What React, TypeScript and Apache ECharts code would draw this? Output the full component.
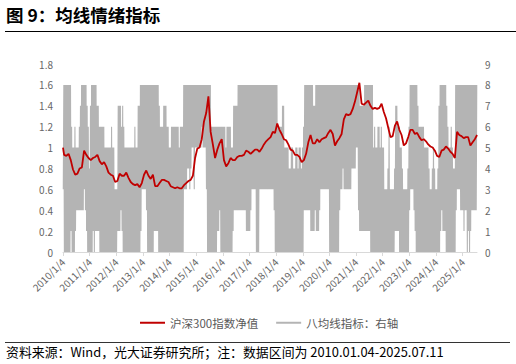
import React, { useEffect, useRef } from "react";
import * as echarts from "echarts";

// 沪深300指数净值, monthly (Jan..Dec), first point 2010/1/4 = 1
const redStart = 1.0;
const red2010 = [0.93, 0.92, 0.94, 0.88, 0.79, 0.74, 0.75, 0.8, 0.81, 0.97, 0.93, 0.9];
const red2011 = [0.88, 0.9, 0.91, 0.93, 0.87, 0.84, 0.86, 0.82, 0.76, 0.74, 0.73, 0.67];
const red2012 = [0.68, 0.75, 0.73, 0.73, 0.76, 0.71, 0.67, 0.65, 0.64, 0.65, 0.62, 0.66];
const red2013 = [0.74, 0.78, 0.73, 0.7, 0.74, 0.63, 0.63, 0.66, 0.69, 0.69, 0.68, 0.67];
const red2014 = [0.63, 0.62, 0.61, 0.62, 0.61, 0.61, 0.64, 0.66, 0.68, 0.69, 0.73, 0.9];
const red2015 = [0.99, 1.0, 1.08, 1.25, 1.33, 1.49, 1.15, 1.03, 0.9, 0.98, 1.04, 1.08];
const red2016 = [0.88, 0.82, 0.85, 0.9, 0.88, 0.88, 0.91, 0.92, 0.92, 0.93, 0.97, 0.96];
const red2017 = [0.94, 0.96, 0.98, 0.98, 0.96, 0.99, 1.03, 1.06, 1.08, 1.1, 1.15, 1.14];
const red2018 = [1.23, 1.17, 1.13, 1.08, 1.07, 1.03, 0.98, 0.97, 0.93, 0.93, 0.91, 0.86];
const red2019 = [0.88, 0.94, 1.05, 1.12, 1.04, 1.04, 1.08, 1.05, 1.08, 1.09, 1.1, 1.14];
const red2020 = [1.17, 1.13, 1.02, 1.06, 1.09, 1.13, 1.27, 1.32, 1.31, 1.32, 1.37, 1.44];
const red2021 = [1.53, 1.62, 1.42, 1.41, 1.43, 1.45, 1.4, 1.37, 1.38, 1.37, 1.38, 1.42];
const red2022 = [1.34, 1.28, 1.19, 1.1, 1.11, 1.21, 1.25, 1.17, 1.12, 1.02, 1.04, 1.1];
const red2023 = [1.17, 1.17, 1.13, 1.14, 1.1, 1.07, 1.08, 1.06, 1.03, 1.01, 1.0, 0.97];
const red2024 = [0.92, 0.91, 0.97, 0.98, 1.01, 0.99, 0.96, 0.94, 0.9, 1.15, 1.12, 1.11];
const red2025 = [1.09, 1.1, 1.1, 1.02, 1.05, 1.08, 1.12];

// 八均线指标: [low, high] range swept in each half month
const gray2010 = [[3,8],[0,8],[0,8],[0,8],[0,8],[0,8],[0,8],[1,6],[0,5],[0,5],[0,6],[1,5],[2,5],[2,5],[2,6],[2,7],[2,8],[2,8],[2,8],[3,8],[2,8],[1,7],[0,6],[0,4]];
const gray2011 = [[0,7],[0,8],[0,8],[1,8],[0,8],[1,8],[1,7],[1,7],[1,6],[0,6],[0,6],[0,6],[0,6],[0,5],[0,5],[0,5],[0,5],[0,5],[0,5],[0,6],[0,5],[0,5],[0,3],[0,3]];
const gray2012 = [[0,3],[1,7],[1,7],[1,7],[2,6],[1,7],[0,6],[0,5],[0,5],[0,5],[0,5],[0,5],[0,5],[0,5],[0,5],[0,5],[0,6],[0,5],[0,5],[0,7],[0,7],[0,8],[1,8],[3,8]];
const gray2013 = [[3,8],[3,8],[3,8],[2,8],[0,8],[0,8],[0,8],[0,8],[0,8],[0,8],[1,8],[1,8],[1,8],[1,8],[0,7],[0,6],[0,6],[0,6],[0,7],[0,7],[0,7],[0,6],[0,6],[0,5]];
const gray2014 = [[0,5],[0,6],[0,6],[0,6],[0,6],[0,6],[0,6],[0,6],[0,5],[0,6],[0,6],[0,6],[0,8],[3,8],[3,8],[3,8],[4,8],[4,8],[3,8],[4,8],[5,8],[5,8],[3,8],[5,8]];
const gray2015 = [[5,8],[5,8],[5,8],[5,8],[5,8],[6,8],[5,8],[5,8],[5,8],[3,8],[0,8],[0,8],[0,8],[0,6],[0,6],[0,6],[0,6],[0,6],[0,6],[1,6],[1,6],[2,6],[0,6],[0,6]];
const gray2016 = [[0,6],[0,6],[0,5],[0,6],[0,6],[0,6],[0,6],[0,5],[0,5],[1,7],[2,7],[2,7],[2,7],[2,8],[2,8],[2,8],[2,8],[2,8],[2,8],[2,8],[2,8],[1,8],[1,8],[1,8]];
const gray2017 = [[1,8],[2,8],[3,8],[3,8],[3,8],[3,8],[0,8],[0,8],[0,8],[3,8],[3,8],[3,8],[3,8],[3,8],[3,8],[3,8],[3,8],[3,8],[3,8],[3,8],[3,8],[3,8],[2,8],[0,8]];
const gray2018 = [[0,8],[0,6],[0,6],[0,6],[0,6],[0,7],[0,7],[0,5],[0,5],[0,5],[0,5],[0,4],[0,4],[0,5],[0,5],[0,4],[0,4],[0,5],[0,5],[0,4],[0,5],[0,5],[0,4],[0,5]];
const gray2019 = [[0,6],[2,8],[2,8],[2,8],[2,8],[2,8],[2,8],[1,8],[1,8],[1,7],[1,7],[2,8],[1,8],[1,8],[1,8],[2,8],[3,8],[3,8],[3,8],[3,8],[3,8],[3,8],[3,8],[3,8]];
const gray2020 = [[0,8],[0,8],[0,8],[0,8],[0,8],[0,8],[0,8],[0,8],[0,8],[2,8],[3,8],[3,8],[4,8],[3,8],[3,8],[3,8],[3,8],[3,8],[3,8],[3,8],[4,8],[4,8],[4,8],[4,8]];
const gray2021 = [[5,8],[5,8],[2,8],[1,7],[1,7],[1,7],[1,7],[1,8],[1,8],[1,8],[1,8],[1,8],[1,8],[0,8],[0,8],[0,5],[0,6],[0,5],[0,5],[0,6],[0,6],[0,5],[0,6],[0,5]];
const gray2022 = [[0,5],[0,3],[0,3],[0,3],[0,4],[0,6],[0,3],[0,3],[0,3],[0,3],[0,4],[1,7],[1,7],[1,6],[1,6],[0,5],[0,5],[0,4],[0,3],[0,3],[0,3],[0,3],[0,4],[0,6]];
const gray2023 = [[2,8],[3,8],[3,8],[3,8],[2,8],[1,8],[0,8],[0,7],[0,6],[0,6],[0,6],[0,6],[0,6],[0,5],[0,5],[0,5],[0,5],[0,4],[0,3],[0,3],[0,4],[0,5],[0,4],[0,3]];
const gray2024 = [[0,3],[0,4],[0,7],[0,8],[1,8],[2,8],[1,8],[1,8],[1,8],[0,7],[0,6],[0,5],[0,5],[0,6],[0,5],[0,4],[0,4],[0,8],[2,8],[3,8],[3,8],[3,8],[2,8],[2,8]];
const gray2025 = [[2,8],[1,8],[2,8],[2,8],[0,8],[1,8],[0,8],[1,8],[2,8],[2,8],[2,8],[2,8],[2,8]];

const startYear = 2010;
const redYears = [red2010, red2011, red2012, red2013, red2014, red2015, red2016, red2017, red2018, red2019, red2020, red2021, red2022, red2023, red2024, red2025];
const grayYears = [gray2010, gray2011, gray2012, gray2013, gray2014, gray2015, gray2016, gray2017, gray2018, gray2019, gray2020, gray2021, gray2022, gray2023, gray2024, gray2025];

const redName = "沪深300指数净值";
const grayName = "八均线指标：右轴";
const title = "图 9：均线情绪指标";
const source = "资料来源：Wind，光大证券研究所；注：数据区间为 2010.01.04-2025.07.11";

const FONT = '"Noto Sans CJK SC", "Noto Sans", sans-serif';

export default function App() {
  const ref = useRef<HTMLDivElement>(null);
  useEffect(() => {
    if (!ref.current) return;
    const chart = echarts.init(ref.current, undefined, { renderer: "svg" });

    const redData: number[][] = [[startYear, redStart]];
    redYears.forEach((arr, yi) => {
      arr.forEach((v, m) => redData.push([startYear + yi + (m + 0.5) / 12, v]));
    });
    const grayData: number[][] = [];
    grayYears.forEach((arr, yi) => {
      arr.forEach((pair, p) => {
        const m = Math.floor(p / 2);
        const h = p % 2;
        const base = startYear + yi + m / 12;
        grayData.push([base + (h + 0.25) / 24, pair[0]]);
        grayData.push([base + (h + 0.75) / 24, pair[1]]);
      });
    });

    chart.setOption({
      animation: false,
      textStyle: { fontFamily: FONT },
      grid: { left: 63, right: 39, top: 64, bottom: 112, containLabel: false },
      legend: {
        data: [redName, grayName],
        left: 135,
        top: 312,
        icon: "rect",
        itemWidth: 25,
        itemHeight: 2,
        itemGap: 18,
        textStyle: { fontSize: 11.5, color: "#595959", fontFamily: FONT },
      },
      xAxis: {
        type: "value",
        min: 2010,
        max: 2025.54,
        interval: 1,
        splitLine: { show: false },
        axisLine: { lineStyle: { color: "#D9D9D9", width: 1 } },
        axisTick: { show: true, length: 4, lineStyle: { color: "#D9D9D9" } },
        axisLabel: {
          rotate: 45,
          margin: 8,
          fontSize: 10,
          color: "#666",
          fontFamily: FONT,
          showMaxLabel: false,
          formatter: (v: number) => (Math.abs(v - Math.round(v)) < 1e-6 ? `${Math.round(v)}/1/4` : ""),
        },
      },
      yAxis: [
        {
          type: "value",
          min: 0,
          max: 1.8,
          interval: 0.2,
          splitLine: { show: false },
          axisLine: { show: false },
          axisTick: { show: false },
          axisLabel: { fontSize: 10, color: "#666", margin: 10, fontFamily: FONT },
        },
        {
          type: "value",
          min: 0,
          max: 9,
          interval: 1,
          position: "right",
          splitLine: { show: false },
          axisLine: { show: false },
          axisTick: { show: false },
          axisLabel: { fontSize: 10, color: "#666", margin: 8, fontFamily: FONT },
        },
      ],
      series: [
        {
          name: grayName,
          type: "line",
          yAxisIndex: 1,
          data: grayData,
          symbol: "none",
          lineStyle: { color: "#B4B4B4", width: 1.1 },
          itemStyle: { color: "#B4B4B4" },
        },
        {
          name: redName,
          type: "line",
          yAxisIndex: 0,
          data: redData,
          symbol: "none",
          lineStyle: { color: "#C00000", width: 1.8 },
          itemStyle: { color: "#C00000" },
        },
      ],
      graphic: [
        {
          type: "text",
          left: 6,
          top: 6,
          style: { text: title, fontSize: 17.5, fontWeight: "bold", fill: "#000", fontFamily: FONT },
        },
        {
          type: "line",
          shape: { x1: 5, y1: 31.5, x2: 516, y2: 31.5 },
          style: { stroke: "#000", lineWidth: 1.2 },
        },
        {
          type: "line",
          shape: { x1: 5, y1: 342.5, x2: 510, y2: 342.5 },
          style: { stroke: "#333", lineWidth: 1 },
        },
        {
          type: "text",
          left: 6,
          top: 345,
          style: { text: source, fontSize: 12.9, fill: "#000", fontFamily: FONT },
        },
      ],
    });
    return () => chart.dispose();
  }, []);
  return (
    <div
      ref={ref}
      style={{ position: "fixed", left: 0, top: 0, width: 516, height: 364, background: "#fff" }}
    />
  );
}
